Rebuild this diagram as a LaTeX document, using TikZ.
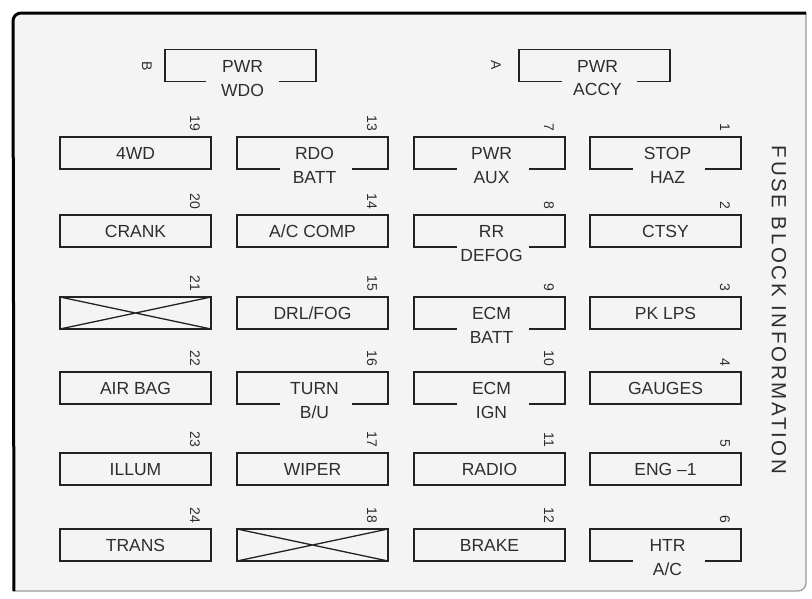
\documentclass[tikz,border=0pt]{standalone}
\usepackage{fontspec}
\setmainfont{Liberation Sans}
\newfontfamily\titlefont[LetterSpace=13]{Liberation Sans}
\usetikzlibrary{calc}
\definecolor{linecol}{HTML}{222222}
\definecolor{txtcol}{HTML}{2E2E2E}
\definecolor{panel}{HTML}{F4F4F4}
\definecolor{rimcol}{HTML}{9A9A9A}
\tikzset{
  fbox/.style={minimum width=151pt, minimum height=32pt, inner sep=0pt, outer sep=0pt},
  fboxdrawn/.style={fbox, draw=linecol, line width=1.9pt},
  edge/.style={draw=linecol, line width=1.9pt},
  crossline/.style={draw=linecol, line width=1.3pt},
  lbl/.style={text=txtcol, font=\fontsize{17.5}{20}\selectfont, inner sep=0pt, text height=12.5pt, text depth=0pt},
  num/.style={text=txtcol, font=\fontsize{14}{16}\selectfont, inner sep=0pt, rotate=-90},
}
\newcommand\FuseOne[5]{%
  \node[fboxdrawn] (#1) at (#2+75.5,#3+16) {};
  \node[lbl] (#1-t) at (#1.center) {#5};
  \node[num, anchor=east] (#1-n) at ($(#1.north east)+(-16,-6)$) {#4};
}
\newcommand\FuseTwo[6]{%
  \node[fbox] (#1) at (#2+75.5,#3+16) {};
  \node[lbl] (#1-t) at ($(#1.center)+(2,0)$) {#5};
  \node[lbl] (#1-b) at ($(#1.south)+(2,8)$) {#6};
  \draw[edge] ($(#1.south)+(-33,0)$) -- (#1.south west) -- (#1.north west) -- (#1.north east) -- (#1.south east) -- ($(#1.south)+(39,0)$);
  \node[num, anchor=east] (#1-n) at ($(#1.north east)+(-16,-6)$) {#4};
}
\newcommand\FuseX[4]{%
  \node[fboxdrawn] (#1) at (#2+75.5,#3+16) {};
  \draw[crossline] (#1.north west) -- (#1.south east) (#1.south west) -- (#1.north east);
  \node[num, anchor=east] (#1-n) at ($(#1.north east)+(-16,-6)$) {#4};
}
\begin{document}
\begin{tikzpicture}[x=1pt,y=-1pt]
\useasboundingbox (0,0) rectangle (812,598);
% panel
\fill[panel, rounded corners=8pt] (13,13) rectangle (806,591);
\draw[rimcol, line width=1.2pt, rounded corners=8pt] (13,591) -- (806,591) -- (806,13);
\draw[black, line width=3pt, rounded corners=8pt] (14,591) -- (13,13) -- (806,13);
% title
\node[text=txtcol, font={\fontsize{20.5}{24}\titlefont}, rotate=-90, inner sep=0pt] (title) at (779,310) {FUSE BLOCK INFORMATION};
% top row
\node[fbox] (wdo) at (240.5,65.5) {};
\node[lbl] (wdo-t) at ($(wdo.center)+(2,1)$) {PWR};
\node[lbl] (wdo-b) at ($(wdo.south)+(2,9)$) {WDO};
\draw[edge] ($(wdo.south)+(-35,0)$) -- (wdo.south west) -- (wdo.north west) -- (wdo.north east) -- (wdo.south east) -- ($(wdo.south)+(38,0)$);
\node[num] (wdo-n) at (147,66) {B};
\node[fbox] (accy) at (594.5,65.5) {};
\node[lbl] (accy-t) at ($(accy.center)+(3,1)$) {PWR};
\node[lbl] (accy-b) at ($(accy.south)+(3,8)$) {ACCY};
\draw[edge] ($(accy.south)+(-33,0)$) -- (accy.south west) -- (accy.north west) -- (accy.north east) -- (accy.south east) -- ($(accy.south)+(42,0)$);
\node[num] (accy-n) at (496,65) {A};
% column 1
\FuseOne{f19}{60}{137}{19}{4WD}
\FuseOne{f20}{60}{215}{20}{CRANK}
\FuseX{f21}{60}{297}{21}
\FuseOne{f22}{60}{372}{22}{AIR BAG}
\FuseOne{f23}{60}{453}{23}{ILLUM}
\FuseOne{f24}{60}{529}{24}{TRANS}
% column 2
\FuseTwo{f13}{237}{137}{13}{RDO}{BATT}
\FuseOne{f14}{237}{215}{14}{A/C COMP}
\FuseOne{f15}{237}{297}{15}{DRL/FOG}
\FuseTwo{f16}{237}{372}{16}{TURN}{B/U}
\FuseOne{f17}{237}{453}{17}{WIPER}
\FuseX{f18}{237}{529}{18}
% column 3
\FuseTwo{f7}{414}{137}{7}{PWR}{AUX}
\FuseTwo{f8}{414}{215}{8}{RR}{DEFOG}
\FuseTwo{f9}{414}{297}{9}{ECM}{BATT}
\FuseTwo{f10}{414}{372}{10}{ECM}{IGN}
\FuseOne{f11}{414}{453}{11}{RADIO}
\FuseOne{f12}{414}{529}{12}{BRAKE}
% column 4
\FuseTwo{f1}{590}{137}{1}{STOP}{HAZ}
\FuseOne{f2}{590}{215}{2}{CTSY}
\FuseOne{f3}{590}{297}{3}{PK LPS}
\FuseOne{f4}{590}{372}{4}{GAUGES}
\FuseOne{f5}{590}{453}{5}{ENG –1}
\FuseTwo{f6}{590}{529}{6}{HTR}{A/C}
\end{tikzpicture}
\end{document}
